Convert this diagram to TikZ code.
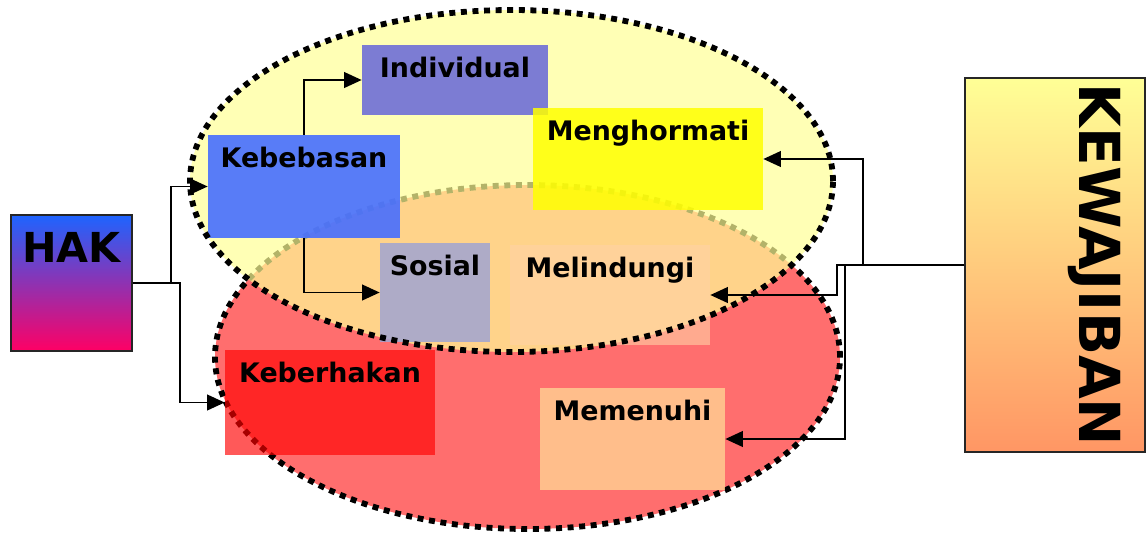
\documentclass[tikz,border=0pt]{standalone}
\usepackage{fontspec}
\setmainfont{DejaVu Sans}
\usepackage{tikz}
\usetikzlibrary{arrows.meta}
\definecolor{HakTop}{RGB}{30,100,255}
\definecolor{HakMid}{RGB}{165,70,200}
\definecolor{HakBottom}{RGB}{255,0,100}
\definecolor{KewTop}{RGB}{255,255,150}
\definecolor{KewBottom}{RGB}{255,150,100}
\definecolor{RingRed}{RGB}{255,110,110}
\definecolor{RingYellow}{RGB}{255,255,150}
\definecolor{BoxColor0}{RGB}{70,110,255}
\definecolor{BoxColor1}{RGB}{110,110,215}
\definecolor{BoxColor2}{RGB}{255,255,0}
\definecolor{BoxColor3}{RGB}{160,165,210}
\definecolor{BoxColor4}{RGB}{255,210,165}
\definecolor{BoxColor5}{RGB}{255,0,0}
\definecolor{BoxColor6}{RGB}{255,205,145}

\begin{document}
\begin{tikzpicture}[x=0.02cm,y=-0.02cm,grp/.style n args={4}{fill=#1,fill opacity=#4,minimum width=#2*0.02cm,minimum height=#3*0.02cm,rectangle,inner sep=0pt},lbl/.style={font=\bfseries\fontsize{15.3}{18}\selectfont,inner sep=0pt},ring/.style={line width=3.3pt,dash pattern=on 3.4pt off 3.2pt},arr/.style={line width=0.9pt,-{Triangle[length=10pt,width=9pt]}}]
\useasboundingbox (0,0) rectangle (1147,535);
% the two rings
\draw[ring,fill=RingRed] (527.5,357) ellipse [x radius=312.5*0.02cm, y radius=172*0.02cm];
\fill[RingYellow,fill opacity=0.7] (511.5,181) ellipse [x radius=321.5*0.02cm, y radius=171*0.02cm];
\foreach \n/\t/\c/\x/\y/\w/\h/\o in %
{keb/Kebebasan/BoxColor0/304/186.5/192/103/0.9,
 ind/Individual/BoxColor1/455/80/186/70/0.9,
 meng/Menghormati/BoxColor2/648/159/230/102/0.85,
 sos/Sosial/BoxColor3/435/292.5/110/99/0.85,
 mel/Melindungi/BoxColor4/610/295/200/100/0.6,
 kbh/Keberhakan/BoxColor5/330/402.5/210/105/0.65,
 mem/Memenuhi/BoxColor6/632.5/439/185/102/0.85} {
   \node[grp={\c}{\w}{\h}{\o}] (\n) at (\x,\y) {};
   \node[lbl,anchor=base] (\n-txt) at ([yshift=-0.66cm]\n.north) {\t};
}
\draw[ring] (511.5,181) ellipse [x radius=321.5*0.02cm, y radius=171*0.02cm];
% HAK and KEWAJIBAN
\node[rectangle,draw=black!85,line width=0.85pt,top color=HakTop,middle color=HakMid,bottom color=HakBottom,minimum width=121*0.02cm,minimum height=136*0.02cm] (hak) at (71.5,283) {};
\node[lbl,font=\bfseries\fontsize{23.5}{26}\selectfont,anchor=base] (hak-txt) at ([yshift=-0.96cm]hak.north) {HAK};
\node[rectangle,draw=black!85,line width=0.85pt,top color=KewTop,bottom color=KewBottom,minimum width=180*0.02cm,minimum height=374*0.02cm] (kew) at (1055,265) {};
\node[lbl,font=\bfseries\fontsize{32.2}{36}\selectfont,rotate=-90,anchor=base] (kew-txt) at ([xshift=0.49cm]kew.center) {KEWAJIBAN};
% connectors
\draw[arr] (hak.east) -- ++(38,0) |- (keb.west);
\draw[arr] (hak.east) -- ++(47,0) |- (kbh.west);
\draw[arr] (keb.north) |- (ind.west);
\draw[arr] (keb.south) |- (sos.west);
\draw[arr] (kew.west) -- ++(-101,0) |- (meng.east);
\draw[arr] (kew.west) -- ++(-127,0) |- (mel.east);
\draw[arr] (kew.west) -- ++(-119,0) |- (mem.east);
\end{tikzpicture}
\end{document}
